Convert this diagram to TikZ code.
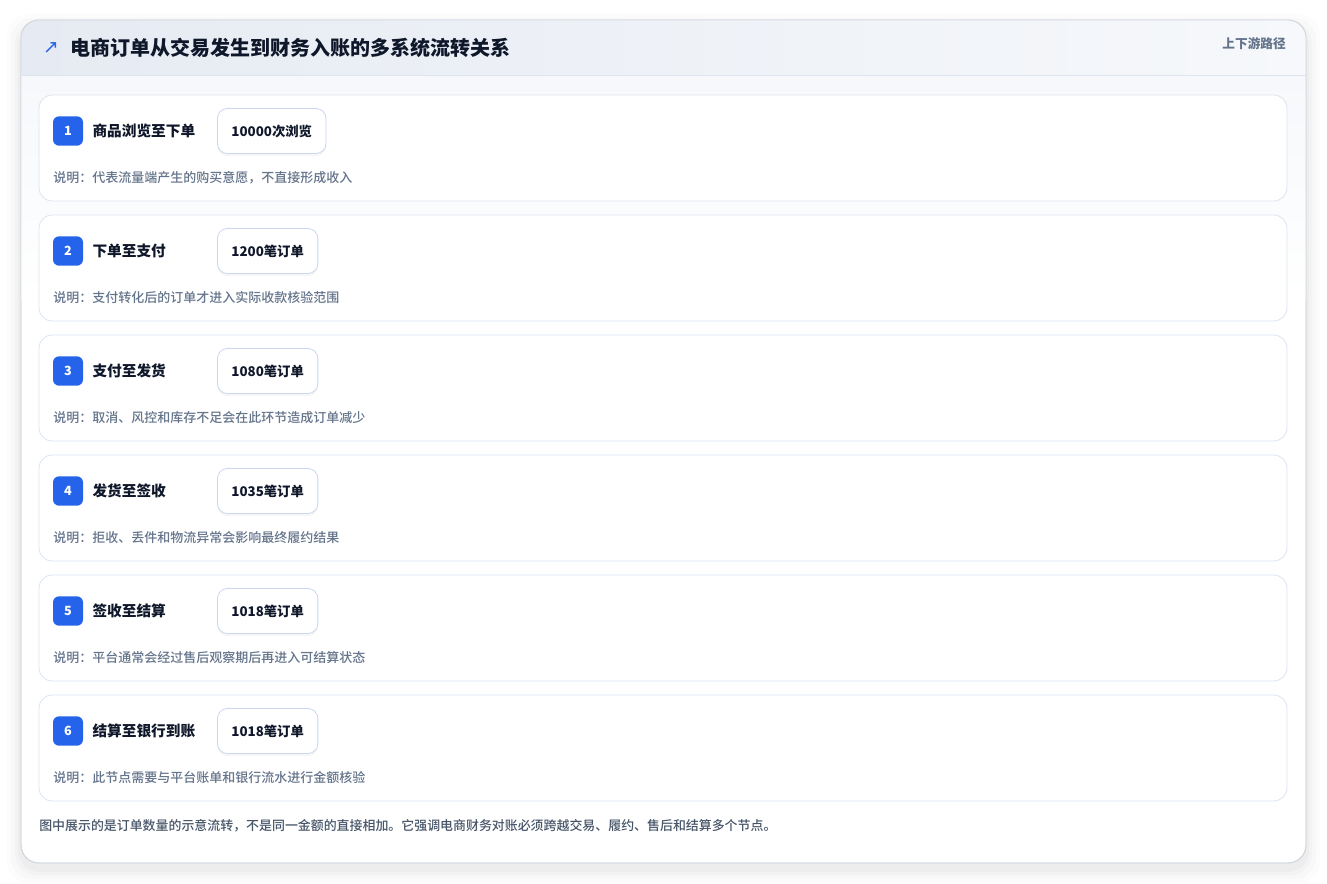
\documentclass[tikz,border=0pt]{standalone}
\usepackage{fontspec}
\setmainfont{Noto Sans CJK SC}
\newfontfamily\medfont{Noto Sans CJK SC Medium}
\newfontfamily\symfont{DejaVu Sans}
\usetikzlibrary{positioning,shadows}
\definecolor{badgeblue}{HTML}{2563EB}
\definecolor{inkdark}{HTML}{0F172A}
\definecolor{inkgrey}{HTML}{64748B}
\definecolor{footgrey}{HTML}{475569}
\definecolor{cardline}{HTML}{DCE4EF}
\definecolor{outerline}{HTML}{D3D8E0}
\definecolor{headleft}{HTML}{E6EBF3}
\definecolor{headright}{HTML}{F6F8FB}
\definecolor{valline}{HTML}{C9D8EE}

\begin{document}
\begin{tikzpicture}[x=0.75pt,y=-0.75pt,
    card/.style={draw=cardline,fill=white,rounded corners=10pt,line width=0.6pt,
                 minimum width=936pt,minimum height=79.5pt,inner sep=0pt},
    badge/.style={fill=badgeblue,rounded corners=4.5pt,minimum width=22.5pt,minimum height=22pt,
                  inner sep=0pt,text=white,font=\bfseries\fontsize{9.5}{11}\selectfont},
    steplabel/.style={inner sep=0pt,text=inkdark,font=\bfseries\fontsize{11}{13}\selectfont},
    valbox/.style={draw=valline,fill=white,rounded corners=7.5pt,line width=0.6pt,
                   minimum height=33.75pt,inner xsep=10.5pt,text=inkdark,
                   font=\bfseries\fontsize{10}{12}\selectfont,
                   drop shadow={opacity=0.07,shadow xshift=0pt,shadow yshift=-2pt}},
    note/.style={inner sep=0pt,text=inkgrey,font=\medfont\fontsize{9.75}{12}\selectfont},
    ]
  \useasboundingbox (0,0) rectangle (1327,884);
  % soft shadow under the outer card
  \foreach \s/\o in {14/0.012,10/0.015,6/0.02,3/0.025}
    \fill[black,opacity=\o,rounded corners=16pt] (21-\s,28-\s) rectangle (1306+\s,869+\s);
  \node[draw=outerline,fill=white,rounded corners=13.5pt,line width=0.7pt,
        minimum width=963.75pt,minimum height=632.25pt,inner sep=0pt] (frame) at (663.5,441.5) {};
  \begin{scope}
    \clip[rounded corners=13.5pt] (21,20) rectangle (1306,863);
    \shade[top color=headright,bottom color=white] (21,75) rectangle (1306,300);
    \shade[left color=headleft,right color=headright] (21,20) rectangle (1306,75);
  \end{scope}
  \draw[outerline,line width=0.7pt,rounded corners=13.5pt] (21,20) rectangle (1306,863);
  \draw[cardline,line width=0.6pt] (21,75) -- (1306,75);

  % header
  \node[text=badgeblue,inner sep=0pt,font=\symfont\fontsize{14}{14}\selectfont] (ico) at (51,48) {↗};
  \node[anchor=west,inner sep=0pt,text=inkdark,font=\bfseries\fontsize{15}{18}\selectfont] (ttl) at (70,48)
    {电商订单从交易发生到财务入账的多系统流转关系};
  \node[anchor=east,inner sep=0pt,text=inkgrey,font=\bfseries\fontsize{9.5}{11}\selectfont] (route) at (1286,44) {上下游路径};

  % step 1
  \node[card] (c1) at (663,148) {};
  \node[badge] (b1) at (68,131) {1};
  \node[steplabel,right=6.75pt of b1] (l1) {商品浏览至下单};
  \node[valbox,anchor=west] (v1) at (217,131) {10000次浏览};
  \node[note,anchor=west] (n1) at (53,178) {说明：代表流量端产生的购买意愿，不直接形成收入};

  % step 2
  \node[card] (c2) at (663,268) {};
  \node[badge] (b2) at (68,251) {2};
  \node[steplabel,right=6.75pt of b2] (l2) {下单至支付};
  \node[valbox,anchor=west] (v2) at (217,251) {1200笔订单};
  \node[note,anchor=west] (n2) at (53,298) {说明：支付转化后的订单才进入实际收款核验范围};

  % step 3
  \node[card] (c3) at (663,388) {};
  \node[badge] (b3) at (68,371) {3};
  \node[steplabel,right=6.75pt of b3] (l3) {支付至发货};
  \node[valbox,anchor=west] (v3) at (217,371) {1080笔订单};
  \node[note,anchor=west] (n3) at (53,418) {说明：取消、风控和库存不足会在此环节造成订单减少};

  % step 4
  \node[card] (c4) at (663,508) {};
  \node[badge] (b4) at (68,491) {4};
  \node[steplabel,right=6.75pt of b4] (l4) {发货至签收};
  \node[valbox,anchor=west] (v4) at (217,491) {1035笔订单};
  \node[note,anchor=west] (n4) at (53,538) {说明：拒收、丢件和物流异常会影响最终履约结果};

  % step 5
  \node[card] (c5) at (663,628) {};
  \node[badge] (b5) at (68,611) {5};
  \node[steplabel,right=6.75pt of b5] (l5) {签收至结算};
  \node[valbox,anchor=west] (v5) at (217,611) {1018笔订单};
  \node[note,anchor=west] (n5) at (53,658) {说明：平台通常会经过售后观察期后再进入可结算状态};

  % step 6
  \node[card] (c6) at (663,748) {};
  \node[badge] (b6) at (68,731) {6};
  \node[steplabel,right=6.75pt of b6] (l6) {结算至银行到账};
  \node[valbox,anchor=west] (v6) at (217,731) {1018笔订单};
  \node[note,anchor=west] (n6) at (53,778) {说明：此节点需要与平台账单和银行流水进行金额核验};

  % footer
  \node[anchor=west,inner sep=0pt,text=footgrey,font=\medfont\fontsize{9.7}{12}\selectfont] (foot) at (39,826)
    {图中展示的是订单数量的示意流转，不是同一金额的直接相加。它强调电商财务对账必须跨越交易、履约、售后和结算多个节点。};
\end{tikzpicture}
\end{document}
